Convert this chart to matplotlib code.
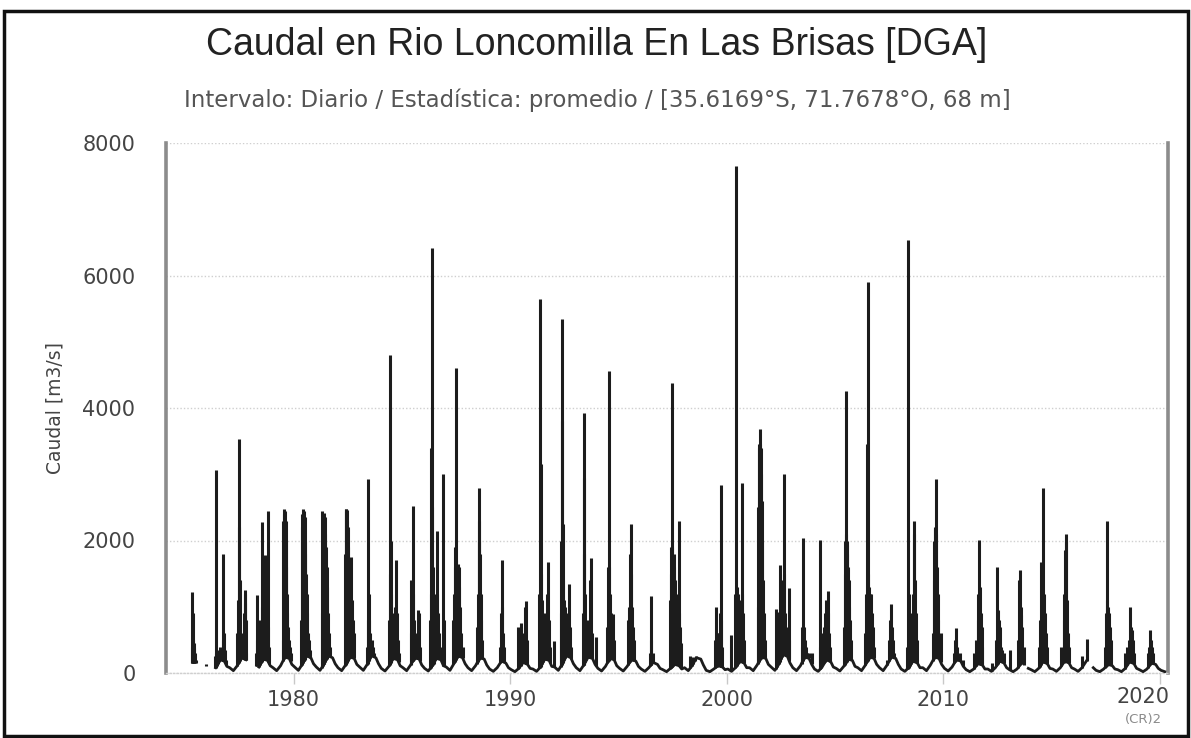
import numpy as np
import matplotlib
matplotlib.use("Agg")
import matplotlib.pyplot as plt
from matplotlib.patches import Rectangle

# ---------------- data ----------------
title = "Caudal en Rio Loncomilla En Las Brisas [DGA]"
subtitle = "Intervalo: Diario / Estadística: promedio / [35.6169°S, 71.7678°O, 68 m]"
y_label = "Caudal [m3/s]"
x_ticks = [1980, 1990, 2000, 2010, 2020]
y_ticks = [0, 2000, 4000, 6000, 8000]

# daily flood spikes: date (decimal year) and peak flow [m3/s]
spike_dates = [
    1975.30, 1975.33, 1975.35, 1975.37, 1975.39, 1975.42, 1975.45, 1975.48, 1975.95,
    1976.38, 1976.40, 1976.42, 1976.45, 1976.50, 1976.55, 1976.62, 1976.68, 1976.72, 1976.76, 1976.79, 1976.83, 1976.88,
    1977.40, 1977.45, 1977.48, 1977.50, 1977.52, 1977.56, 1977.62, 1977.72, 1977.74, 1977.76, 1977.78, 1977.80, 1977.82,
    1978.28, 1978.30, 1978.33, 1978.40, 1978.45, 1978.50, 1978.53, 1978.56, 1978.58, 1978.62, 1978.65, 1978.68, 1978.70, 1978.73, 1978.76, 1978.79, 1978.81, 1978.84, 1978.88,
    1979.50, 1979.53, 1979.55, 1979.57, 1979.59, 1979.61, 1979.63, 1979.65, 1979.67, 1979.69, 1979.71, 1979.74, 1979.77, 1979.82, 1979.86,
    1980.36, 1980.39, 1980.41, 1980.43, 1980.45, 1980.47, 1980.49, 1980.51, 1980.53, 1980.55, 1980.57, 1980.60, 1980.63, 1980.67, 1980.72, 1980.78,
    1981.30, 1981.33, 1981.35, 1981.37, 1981.40, 1981.42, 1981.45, 1981.47, 1981.50, 1981.53, 1981.56, 1981.60, 1981.64, 1981.70,
    1982.38, 1982.40, 1982.42, 1982.44, 1982.46, 1982.48, 1982.50, 1982.53, 1982.56, 1982.59, 1982.62, 1982.66, 1982.70, 1982.74, 1982.78,
    1983.38, 1983.42, 1983.45, 1983.47, 1983.50, 1983.55, 1983.60, 1983.65, 1983.72,
    1984.40, 1984.44, 1984.47, 1984.49, 1984.52, 1984.56, 1984.60, 1984.65, 1984.70, 1984.73, 1984.76, 1984.80, 1984.85,
    1985.40, 1985.44, 1985.47, 1985.50, 1985.52, 1985.55, 1985.60, 1985.65, 1985.72, 1985.76, 1985.80, 1985.84,
    1986.30, 1986.33, 1986.36, 1986.38, 1986.40, 1986.43, 1986.46, 1986.50, 1986.55, 1986.60, 1986.64, 1986.67, 1986.72, 1986.80, 1986.92, 1986.95,
    1987.38, 1987.42, 1987.45, 1987.47, 1987.49, 1987.51, 1987.54, 1987.57, 1987.60, 1987.63, 1987.66, 1987.70, 1987.74, 1987.80,
    1988.45, 1988.50, 1988.54, 1988.56, 1988.58, 1988.60, 1988.63, 1988.67, 1988.72,
    1989.55, 1989.58, 1989.61, 1989.63, 1989.66, 1989.70,
    1990.37, 1990.42, 1990.48, 1990.52, 1990.60, 1990.67, 1990.70, 1990.74, 1990.77,
    1991.35, 1991.38, 1991.40, 1991.43, 1991.47, 1991.52, 1991.57, 1991.62, 1991.68, 1991.74, 1991.77, 1991.85, 1992.00,
    1992.33, 1992.36, 1992.38, 1992.40, 1992.43, 1992.46, 1992.50, 1992.55, 1992.60, 1992.66, 1992.72, 1992.76, 1992.82,
    1993.36, 1993.39, 1993.41, 1993.43, 1993.47, 1993.52, 1993.58, 1993.64, 1993.69, 1993.72, 1993.76, 1993.97,
    1994.48, 1994.52, 1994.54, 1994.56, 1994.60, 1994.65, 1994.70, 1994.74, 1994.78,
    1995.45, 1995.50, 1995.54, 1995.57, 1995.60, 1995.63, 1995.67, 1995.72,
    1996.45, 1996.49, 1996.52, 1996.58,
    1997.38, 1997.42, 1997.44, 1997.46, 1997.48, 1997.52, 1997.55, 1997.58, 1997.62, 1997.66, 1997.70, 1997.74, 1997.78, 1997.81, 1997.84, 1997.88,
    1998.30, 1998.38, 1998.45, 1998.52, 1998.60, 1998.70, 1998.77,
    1999.45, 1999.50, 1999.55, 1999.60, 1999.65, 1999.69, 1999.72, 1999.75, 1999.80,
    2000.18, 2000.40, 2000.43, 2000.45, 2000.50, 2000.55, 2000.60, 2000.66, 2000.70, 2000.72, 2000.75, 2000.80,
    2001.42, 2001.45, 2001.48, 2001.50, 2001.52, 2001.54, 2001.56, 2001.58, 2001.61, 2001.64, 2001.67, 2001.70, 2001.75,
    2002.26, 2002.31, 2002.40, 2002.45, 2002.50, 2002.55, 2002.60, 2002.63, 2002.66, 2002.70, 2002.75, 2002.85, 2002.88,
    2003.45, 2003.48, 2003.52, 2003.55, 2003.60, 2003.66, 2003.72, 2003.80, 2003.92,
    2004.30, 2004.32, 2004.35, 2004.50, 2004.55, 2004.60, 2004.64, 2004.66, 2004.69, 2004.72, 2004.78,
    2005.40, 2005.45, 2005.47, 2005.49, 2005.51, 2005.53, 2005.55, 2005.57, 2005.60, 2005.63, 2005.66, 2005.70, 2005.74,
    2006.40, 2006.45, 2006.48, 2006.51, 2006.53, 2006.56, 2006.59, 2006.62, 2006.66, 2006.70, 2006.74, 2006.80,
    2007.40, 2007.50, 2007.55, 2007.59, 2007.62, 2007.66, 2007.72,
    2008.32, 2008.36, 2008.39, 2008.44, 2008.50, 2008.56, 2008.60, 2008.63, 2008.66, 2008.69, 2008.72, 2008.78,
    2009.50, 2009.55, 2009.58, 2009.60, 2009.62, 2009.65, 2009.67, 2009.70, 2009.73, 2009.77, 2009.82, 2009.88,
    2010.50, 2010.55, 2010.57, 2010.60, 2010.65, 2010.75, 2010.92,
    2011.40, 2011.50, 2011.58, 2011.62, 2011.65, 2011.68, 2011.72, 2011.76, 2011.80,
    2012.23, 2012.45, 2012.49, 2012.52, 2012.56, 2012.60, 2012.66, 2012.72, 2012.80,
    2013.08, 2013.45, 2013.50, 2013.54, 2013.57, 2013.60, 2013.64, 2013.70,
    2014.40, 2014.45, 2014.51, 2014.55, 2014.60, 2014.62, 2014.65, 2014.70, 2014.75, 2014.80,
    2015.45, 2015.55, 2015.58, 2015.61, 2015.64, 2015.67, 2015.70, 2015.74, 2015.80,
    2016.39, 2016.62,
    2017.45, 2017.50, 2017.54, 2017.57, 2017.60, 2017.64, 2017.68, 2017.72,
    2018.39, 2018.50, 2018.56, 2018.62, 2018.65, 2018.70, 2018.74, 2018.80,
    2019.45, 2019.50, 2019.54, 2019.57, 2019.62, 2019.70,
]
spike_values = [
    400, 1220, 900, 500, 450, 380, 300, 200, 130,
    250, 300, 3070, 350, 300, 280, 400, 350, 500, 1790, 600, 350, 200,
    600, 1100, 2200, 3530, 1400, 600, 400, 900, 1250, 1200, 1050, 800, 300,
    300, 1170, 500, 400, 800, 600, 1000, 2280, 900, 1500, 1200, 1780, 1000, 1300, 800, 1500, 2440, 700, 400,
    500, 2300, 2470, 2400, 2200, 2450, 2000, 2300, 1600, 1200, 900, 700, 500, 400, 300,
    800, 2200, 2400, 2470, 2300, 2450, 2100, 2350, 2000, 1800, 1500, 1200, 900, 600, 500, 350,
    900, 2440, 2400, 2380, 2300, 2420, 2100, 2350, 1900, 1600, 1300, 900, 600, 400,
    1800, 2470, 2450, 2470, 2300, 2460, 2200, 1900, 1600, 1500, 1400, 1750, 1100, 800, 600,
    400, 800, 2930, 1200, 800, 600, 500, 400, 300,
    800, 1500, 4800, 2000, 1200, 900, 700, 800, 1000, 1700, 900, 500, 300,
    600, 1400, 1000, 2520, 1200, 800, 500, 400, 600, 950, 900, 400,
    800, 1200, 3400, 6420, 2500, 1600, 1200, 900, 800, 1200, 2150, 900, 600, 400, 3010, 800,
    800, 1200, 1600, 1900, 4610, 1700, 1600, 1650, 1500, 1600, 1300, 1000, 600, 400,
    700, 1200, 2300, 2000, 2790, 1800, 1200, 800, 500,
    400, 900, 1710, 1000, 600, 400,
    700, 500, 760, 450, 600, 1000, 700, 1085, 500,
    1200, 5640, 3150, 1500, 1100, 800, 900, 700, 1200, 1680, 800, 400, 480,
    900, 2000, 5350, 3800, 2250, 1400, 1100, 1000, 900, 800, 1350, 700, 400,
    900, 2950, 3920, 1800, 1200, 800, 700, 800, 1400, 1730, 600, 540,
    700, 1600, 4560, 1600, 1200, 900, 700, 890, 500,
    800, 1000, 1800, 2245, 1500, 1000, 700, 500,
    300, 1163, 500, 300,
    1100, 1500, 1900, 4380, 1900, 1700, 1800, 1600, 1400, 1200, 900, 700, 900, 2290, 700, 450,
    250, 200, 240, 230, 250, 200, 150,
    500, 1000, 600, 500, 600, 900, 2840, 800, 400,
    570, 1190, 7660, 1300, 1200, 1100, 1000, 900, 1200, 2870, 900, 500,
    1000, 2500, 3400, 3450, 3690, 3450, 3400, 3000, 2600, 2000, 1400, 900, 500,
    970, 925, 800, 1630, 1200, 900, 1400, 3000, 1500, 900, 700, 1280, 500,
    400, 700, 2040, 700, 500, 400, 300, 300, 300,
    400, 2010, 600, 700, 900, 1100, 1000, 1240, 900, 600, 400,
    700, 1500, 2000, 4250, 2100, 1930, 2000, 1800, 1600, 1400, 1000, 800, 500,
    600, 1200, 3450, 5900, 1500, 1300, 1200, 1100, 1200, 900, 700, 400,
    200, 500, 800, 1035, 700, 500, 300,
    400, 6540, 1200, 800, 700, 900, 1200, 2100, 2300, 1400, 900, 500,
    600, 1400, 2000, 2180, 2200, 2930, 2100, 1600, 1200, 800, 500, 600,
    300, 500, 680, 500, 400, 300, 190,
    300, 500, 800, 1200, 2010, 1300, 900, 700, 400,
    150, 500, 1600, 950, 800, 700, 400, 350, 300,
    350, 500, 1400, 1550, 1000, 870, 700, 400,
    400, 800, 1680, 1000, 1200, 2800, 1200, 900, 600, 400,
    400, 800, 1200, 1850, 2100, 2000, 1100, 600, 400,
    250, 520,
    400, 900, 2300, 1100, 1000, 900, 700, 500,
    300, 400, 500, 1000, 700, 650, 500, 300,
    300, 400, 650, 500, 400, 300,
]

# seasonal base flow per hydrological year [m3/s]
base_years = list(range(1975, 2021))
season_offsets = [0.05, 0.22, 0.40, 0.60, 0.80, 0.92]   # Jan, Mar, May, Aug, Oct, Dec
nan = float("nan")
base_jan = [nan, 60, 80, 60, 80, 90, 90, 80, 90, 70, 80, 70, 90, 80, 60, 50, 60, 90, 80, 70, 70, 60, 50, 80, 40, 60,
            80, 90, 80, 60, 70, 80, 80, 60, 80, 70, 50, 60, 50, 50, 60, 60, 40, 50, 50, 40]
base_mar = [nan, 30, 35, 30, 35, 40, 40, 35, 40, 30, 35, 30, 40, 35, 25, 20, 25, 40, 35, 30, 30, 25, 20, 35, 20, 25,
            35, 40, 35, 25, 30, 35, 35, 25, 35, 30, 20, 25, 20, 20, 25, 25, 20, 20, 20, 20]
base_may = [150, 80, 110, 90, 110, 130, 130, 120, 130, 100, 120, 110, 140, 110, 80, 70, 90, 130, 120, 100, 100, 80,
            70, 110, 60, 80, 120, 130, 110, 90, 100, 120, 120, 80, 120, 90, 60, 80, 60, 70, 80, 80, 60, 70, 60, nan]
base_aug = [nan, 200, 230, 210, 240, 260, 260, 240, 260, 220, 230, 220, 260, 230, 180, 160, 210, 260, 240, 220, 200,
            160, 130, 230, 110, 180, 240, 280, 240, 200, 210, 240, 240, 180, 240, 200, 140, 180, 150, 170, 180, 180,
            130, 170, 150, nan]
base_oct = [nan, 180, 200, 190, 220, 230, 230, 220, 230, 200, 210, 200, 230, 210, 150, 130, 190, 230, 220, 200, 180,
            130, 110, 210, 90, 150, 220, 250, 220, 170, 190, 220, 220, 150, 220, 180, 120, 150, nan, 140, 150, 150,
            110, 140, 130, nan]
base_dec = [nan, 100, 120, 110, 130, 140, 140, 130, 140, 110, 120, 110, 140, 120, 80, 70, 100, 140, 130, 110, 100,
            70, 60, 120, 50, 80, 130, 150, 130, 90, 100, 130, 130, 80, 130, 100, 60, 80, 70, 70, 80, 80, 60, 70, 70, nan]
record_start, record_end = 1975.28, 2020.37
gap_spans = [(1975.52, 1976.30), (1977.86, 1978.25), (2016.70, 2016.85)]

# ---------------- build base-flow polyline ----------------
levels = [base_jan, base_mar, base_may, base_aug, base_oct, base_dec]
bd, bv = [], []
for i, yr in enumerate(base_years):
    for off, lev in zip(season_offsets, levels):
        t = yr + off
        v = lev[i]
        if t < record_start or t > record_end or any(a < t < b for a, b in gap_spans):
            v = nan
        bd.append(t)
        bv.append(v)
bd = np.array(bd)
bv = np.array(bv)
ok = ~np.isnan(bv)

# ---------------- figure ----------------
W, H = 1191, 738
fig = plt.figure(figsize=(W / 100, H / 100), dpi=100)
fig.patch.set_facecolor("white")

ax_l, ax_r, ax_t, ax_b = 166, 1168, 143, 673
ax = fig.add_axes([ax_l / W, 1 - ax_b / H, (ax_r - ax_l) / W, (ax_b - ax_t) / H])
ax.set_xlim(1974.11, 2020.37)
ax.set_ylim(0, 8000)

line_col = "#1c1c1c"
sd = np.array(spike_dates)
sv = np.array(spike_values)
ymin = np.interp(sd, bd[ok], bv[ok])
ymin = np.minimum(ymin, sv)
ax.vlines(sd, ymin, sv, color=line_col, lw=2.2, zorder=3)
ax.plot(bd, bv, color=line_col, lw=2.0, zorder=4, solid_joinstyle="round")

# grid & spines
ax.set_yticks(y_ticks)
ax.set_xticks(x_ticks)
ax.yaxis.grid(True, color="#cfcfcf", linestyle=(0, (1, 1.5)), lw=1.0)
ax.set_axisbelow(True)
for side in ["left", "right"]:
    ax.spines[side].set_color("#8c8c8c")
    ax.spines[side].set_linewidth(2.6)
ax.spines["top"].set_visible(False)
ax.spines["bottom"].set_color("#cfcfcf")
ax.spines["bottom"].set_linestyle((0, (1, 1.5)))
ax.spines["bottom"].set_linewidth(1.0)

tick_fs = 15
ax.tick_params(axis="y", length=0, pad=22, labelsize=tick_fs, labelcolor="#444444")
ax.tick_params(axis="x", direction="out", length=8, width=1, color="#c8c8c8", pad=4,
               labelsize=tick_fs, labelcolor="#444444")
ax.set_xticklabels([str(v) for v in x_ticks[:-1]] + [""])
ax.annotate(str(x_ticks[-1]), xy=(x_ticks[-1], 0), xycoords=("data", "axes fraction"),
            xytext=(-17, -24), textcoords="offset pixels", ha="center", va="center",
            fontsize=tick_fs, color="#444444", annotation_clip=False)

# texts
fig.text(597 / W, 1 - 45 / H, title, ha="center", va="center", fontsize=27,
         family=["Liberation Sans", "DejaVu Sans"], color="#222222")
fig.text(597 / W, 1 - 100 / H, subtitle, ha="center", va="center", fontsize=16.5, color="#555555")
fig.text(55 / W, 1 - 408 / H, y_label, rotation=90, ha="center", va="center", fontsize=13.5, color="#444444")
fig.text(1143 / W, 1 - 720 / H, "(CR)2", ha="center", va="center", fontsize=9.5, color="#8a8a8a")

# outer frame of the scanned figure
fig.patches.append(Rectangle((4 / W, 1 - 736 / H), (1188 - 4) / W, (736 - 11) / H,
                             transform=fig.transFigure, fill=False, edgecolor="#111111", lw=2.5))

fig.savefig("out.png", dpi=100)
